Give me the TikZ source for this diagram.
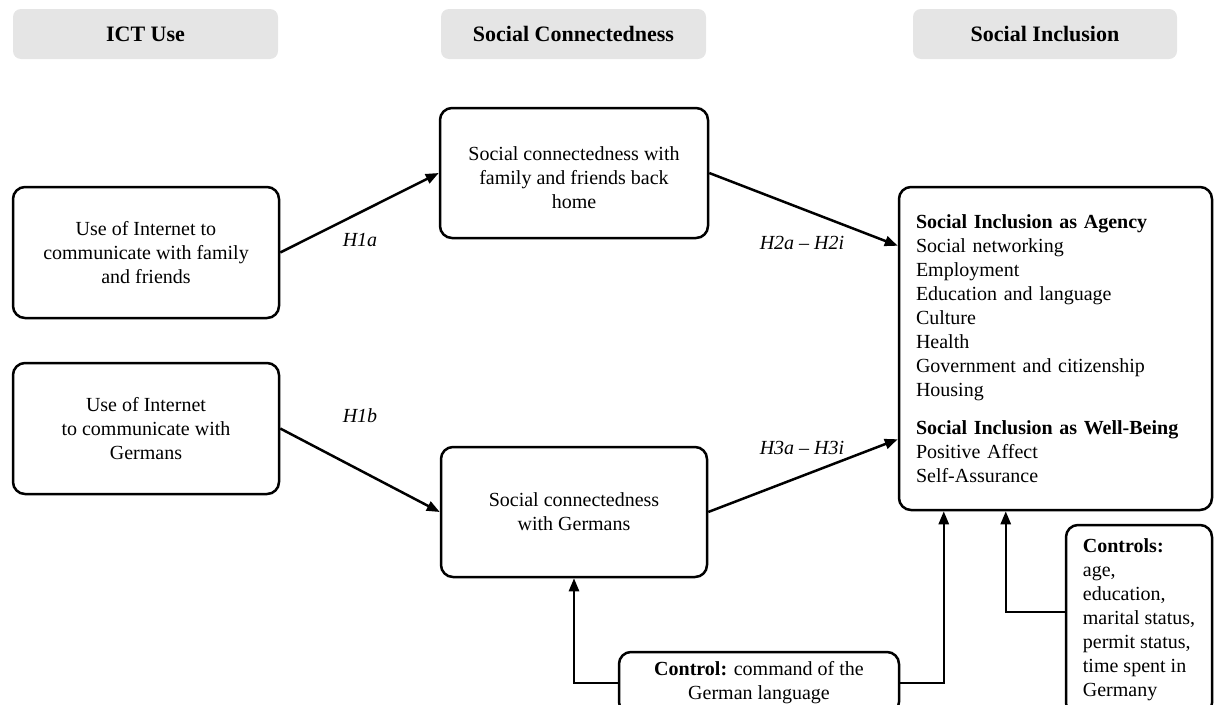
\documentclass[tikz,border=0pt]{standalone}
\usepackage{fontspec}
\setmainfont{Liberation Serif}
\usetikzlibrary{arrows.meta,calc}
\begin{document}
\begin{tikzpicture}[x=1pt,y=-1pt,
  every node/.style={font=\fontsize{20}{24}\selectfont, inner sep=0pt},
  hdr/.style={fill=gray!20, rounded corners=8pt, minimum height=50pt, font=\fontsize{22}{26}\selectfont\bfseries},
  box/.style={draw, line width=2.5pt, rounded corners=12pt, align=center},
  arr/.style={line width=2.5pt, -{Triangle[length=13pt,width=10pt]}},
  lab/.style={font=\fontsize{20}{24}\selectfont\itshape}]
\useasboundingbox (0,0) rectangle (1214,704);

\node[hdr, minimum width=265pt] (h1) at (145.5,34) {ICT Use};
\node[hdr, minimum width=265pt] (h2) at (573.5,34) {Social Connectedness};
\node[hdr, minimum width=264pt] (h3) at (1045,34) {Social Inclusion};

\node[box, minimum width=266pt, minimum height=131pt] (a) at (146,252.5) {Use of Internet to\\communicate with family\\and friends};
\node[box, minimum width=266pt, minimum height=131pt] (b) at (146,428.5) {Use of Internet\\to communicate with\\Germans};
\node[box, minimum width=268pt, minimum height=130pt] (c) at (574,173) {\rule{0pt}{24pt}Social connectedness with\\family and friends back\\home};
\node[box, minimum width=266pt, minimum height=130pt] (d) at (574,512) {Social connectedness\\with Germans};

\node[box, minimum width=313pt, minimum height=323pt, align=left, text width=279pt, inner xsep=17pt] (e) at (1055.5,348.5)
 {\textbf{Social Inclusion as Agency}\\Social networking\\Employment\\Education and language\\Culture\\Health\\Government and citizenship\\Housing\\[14pt]\textbf{Social Inclusion as Well-Being}\\Positive Affect\\Self-Assurance};

\node[box, minimum width=146pt, minimum height=190pt, align=left] (ctrl) at (1139,620)
 {\textbf{Controls:}\\age,\\education,\\marital status,\\permit status,\\time spent in\\Germany};

\node[box, minimum width=280pt, minimum height=62pt] (ctl) at (759,683) {\textbf{Control:} command of the\\German language};

\coordinate (e1) at ([yshift=-60pt]e.north west);
\coordinate (e2) at ([yshift=72pt]e.south west);
\coordinate (k1) at ([yshift=-88pt]ctrl.north west);
\coordinate (k2) at ([xshift=108pt]e.south west);
\coordinate (k3) at ([xshift=46pt]e.south west);

\draw[arr] (a.east) -- (c.west);
\draw[arr] (b.east) -- (d.west);
\draw[arr] (c.east) -- (e1);
\draw[arr] (d.east) -- (e2);
\draw[arr] (k1) -| (k2);
\draw[arr] (ctl.east) -| (k3);
\draw[arr] (ctl.west) -| (d.south);

\node[lab] (l1) at (360,240) {H1a};
\node[lab] (l2) at (360,416) {H1b};
\node[lab] (l3) at (802,243) {H2a – H2i};
\node[lab] (l4) at (802,448) {H3a – H3i};
\end{tikzpicture}
\end{document}
